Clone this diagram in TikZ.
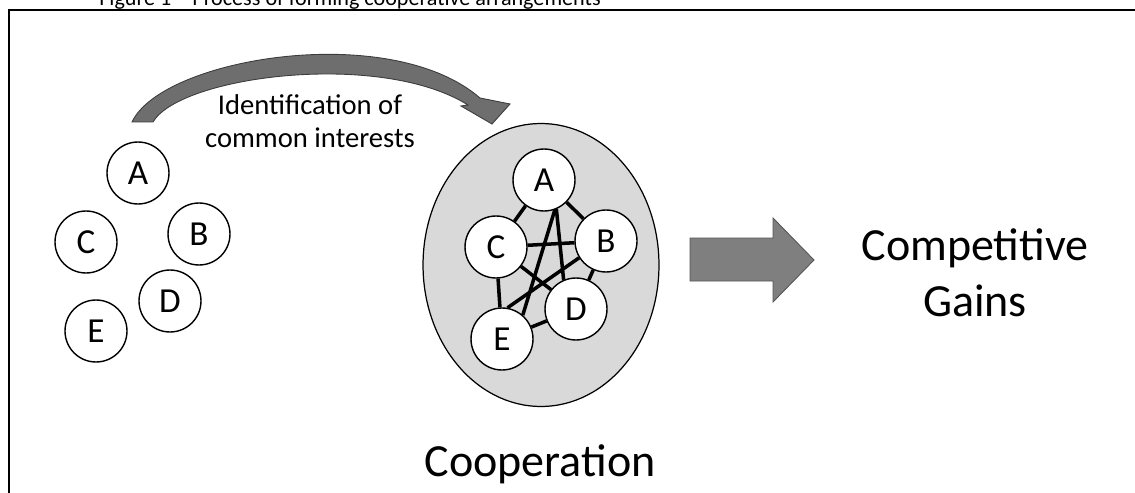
\documentclass[tikz,border=0pt]{standalone}
\usepackage{fontspec}
\setmainfont{Carlito}
\usetikzlibrary{shapes.geometric,backgrounds}
\definecolor{ovalgray}{RGB}{217,217,217}
\definecolor{curvegray}{RGB}{110,110,110}
\definecolor{curveline}{RGB}{60,60,60}
\definecolor{bigfill}{RGB}{127,127,127}
\definecolor{bigline}{RGB}{85,85,85}
\begin{document}
\begin{tikzpicture}[x=0.02cm,y=-0.02cm,
  member/.style={circle,draw=black,line width=0.8pt,fill=white,minimum size=1.24cm,inner sep=0pt,font=\fontsize{20}{21}\selectfont},
  link/.style={line width=2pt,black},
  label/.style={inner sep=0pt,anchor=base}]
\useasboundingbox (0,0) rectangle (1135,493);
% title and frame
\node[label,font=\fontsize{12.6}{14}\selectfont] (title) at (350,6) {Figure 1 -- Process of forming cooperative arrangements};
\draw[line width=1pt] (1160,10) -- (9,10) -- (9,520);
% scattered members
\node[member] (la) at (138,173) {A};
\node[member] (lb) at (199,234) {B};
\node[member] (lc) at (86,242) {C};
\node[member] (ld) at (170,301) {D};
\node[member] (le) at (96,331) {E};
% curved arrow
\filldraw[fill=curvegray,draw=curveline,line width=0.5pt]
  (132,122) .. controls (162,58) and (390,20) .. (480,98)
  -- (510,104) -- (492,124) -- (461,106) -- (468,105)
  .. controls (380,50) and (180,76) .. (153,122) -- cycle;
\node[font=\fontsize{16.3}{18.8}\selectfont,align=center] (ident) at (310,121) {Identification of\\common interests};
% cooperation cluster
\node[member] (ca) at (544,180) {A};
\node[member] (cb) at (606,241) {B};
\node[member] (cc) at (496,247) {C};
\node[member] (cd) at (576,309) {D};
\node[member] (ce) at (502,339) {E};
\begin{pgfonlayer}{background}
\node[ellipse,draw=black,line width=0.7pt,fill=ovalgray,minimum width=4.72cm,minimum height=5.66cm] (coop) at (541,265) {};
\draw[link] (ca) -- (cb);
\draw[link] (ca) -- (cc);
\draw[link] (ca.-67) -- (cd.113);
\draw[link] (ca.-70) -- (ce.49);
\draw[link] (cb) -- (cc);
\draw[link] (cb) -- (cd);
\draw[link] (cb.212) -- (ce.80);
\draw[link] (cc) -- (cd);
\draw[link] (cc) -- (ce);
\draw[link] (cd) -- (ce);
\end{pgfonlayer}
\node[label,font=\fontsize{26.2}{30}\selectfont] (coopname) at (540,476) {Cooperation};
% block arrow
\filldraw[fill=bigfill,draw=bigline,line width=0.5pt]
  (690,238) -- (773,238) -- (773,218) -- (814,260) -- (773,302) -- (773,281) -- (690,281) -- cycle;
\node[label,font=\fontsize{26.2}{30}\selectfont] (gain1) at (975,260) {Competitive};
\node[label,font=\fontsize{26.2}{30}\selectfont] (gain2) at (975,316) {Gains};
\end{tikzpicture}
\end{document}
